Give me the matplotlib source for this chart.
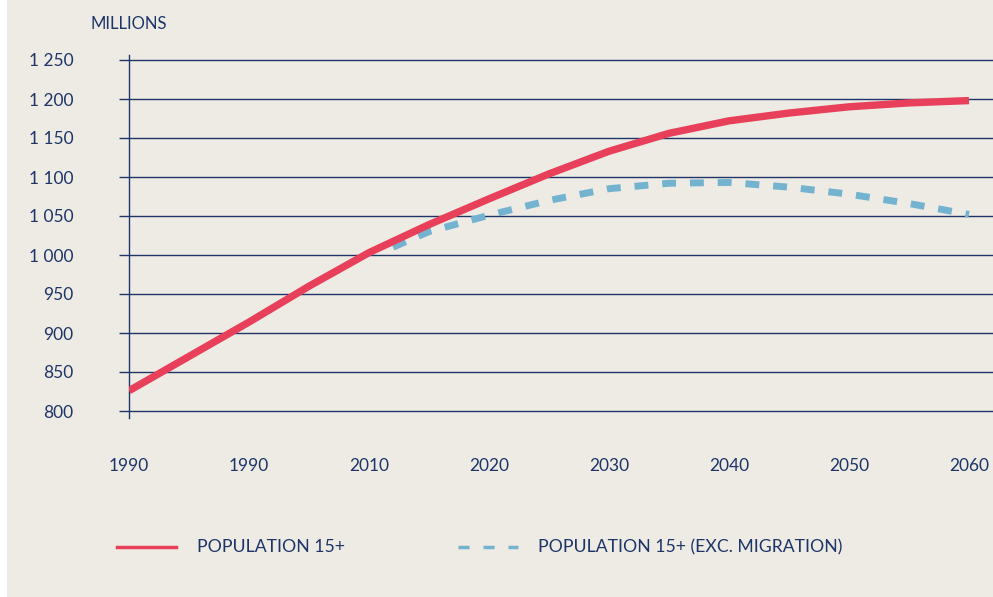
import matplotlib
matplotlib.use("Agg")
import matplotlib.pyplot as plt
from matplotlib.lines import Line2D
from matplotlib.patches import Rectangle

plt.rcParams['font.family'] = ['Lato', 'DejaVu Sans']

# Data
years_total = [1990, 1995, 2000, 2005, 2010, 2015, 2020, 2025, 2030, 2035, 2040, 2045, 2050, 2055, 2060]
pop_total = [826, 870, 914, 960, 1003, 1039, 1072, 1104, 1133, 1156, 1172, 1182, 1190, 1195, 1198]
years_nomig = [2012, 2015, 2020, 2025, 2030, 2035, 2040, 2045, 2050, 2055, 2060]
pop_nomig = [1010, 1030, 1051, 1070, 1085, 1092, 1093, 1087, 1078, 1066, 1052]

x_ticks = [1990, 2000, 2010, 2020, 2030, 2040, 2050, 2060]
x_labels = ["1990", "1990", "2010", "2020", "2030", "2040", "2050", "2060"]
y_ticks = [800, 850, 900, 950, 1000, 1050, 1100, 1150, 1200, 1250]
y_labels = ["800", "850", "900", "950", "1 000", "1 050", "1 100", "1 150", "1 200", "1 250"]
series_names = ["POPULATION 15+", "POPULATION 15+ (EXC. MIGRATION)"]

BG = "#eeebe5"
NAVY = "#1d3567"
RED = "#e8405a"
BLUE = "#74b3cf"

W, H = 993, 597
fig = plt.figure(figsize=(W / 100, H / 100), dpi=100, facecolor="white")
fig.patches.append(Rectangle((7 / W, 0), 1 - 7 / W, 1, transform=fig.transFigure,
                             facecolor=BG, edgecolor="none", zorder=-10))

px_per_unit = (411 - 60) / 450.0
y_top = 1250 + 5 / px_per_unit
y_bot = 800 - 7 / px_per_unit
ax_top_px, ax_bot_px = 55, 418
ax = fig.add_axes([129 / W, 1 - ax_bot_px / H, 1 - 129 / W, (ax_bot_px - ax_top_px) / H])
ax.set_facecolor("none")
ax.set_xlim(1990, 2062)
ax.set_ylim(y_bot, y_top)

for s in ["top", "right", "bottom"]:
    ax.spines[s].set_visible(False)
ax.spines["left"].set_color(NAVY)
ax.spines["left"].set_linewidth(1.0)

ax.set_yticks(y_ticks)
ax.set_yticklabels(y_labels)
ax.set_xticks(x_ticks)
ax.set_xticklabels(x_labels)
ax.tick_params(axis="y", direction="out", length=7, width=1.0, color=NAVY, pad=33,
               labelsize=12.5, labelcolor=NAVY)
for lab in ax.get_yticklabels():
    lab.set_horizontalalignment("right")
ax.tick_params(axis="x", length=0, pad=29, labelsize=12.5, labelcolor=NAVY)

for v in y_ticks:
    ax.axhline(v, color=NAVY, lw=1.0, zorder=1)

ax.plot(years_total, pop_total, color=RED, lw=5.3, solid_capstyle="butt", zorder=3)
ax.plot(years_nomig, pop_nomig, color=BLUE, lw=5.0, dashes=(2.0, 2.0),
        dash_capstyle="butt", zorder=2)

fig.text(91 / W, 1 - 24 / H, "MILLIONS", color=NAVY, fontsize=12, va="center", ha="left")

# Legend
ly = 1 - 547 / H
fig.add_artist(Line2D([117 / W, 176 / W], [ly, ly], color=RED, lw=2.5, transform=fig.transFigure))
fig.text(197 / W, ly, series_names[0], color=NAVY, fontsize=12.7, va="center", ha="left")
fig.add_artist(Line2D([458 / W, 518 / W], [ly, ly], color=BLUE, lw=2.5, dashes=(3.2, 4.0),
                      transform=fig.transFigure))
fig.text(538 / W, ly, series_names[1], color=NAVY, fontsize=12.7, va="center", ha="left")

fig.savefig("out.png", dpi=100, facecolor="white")
